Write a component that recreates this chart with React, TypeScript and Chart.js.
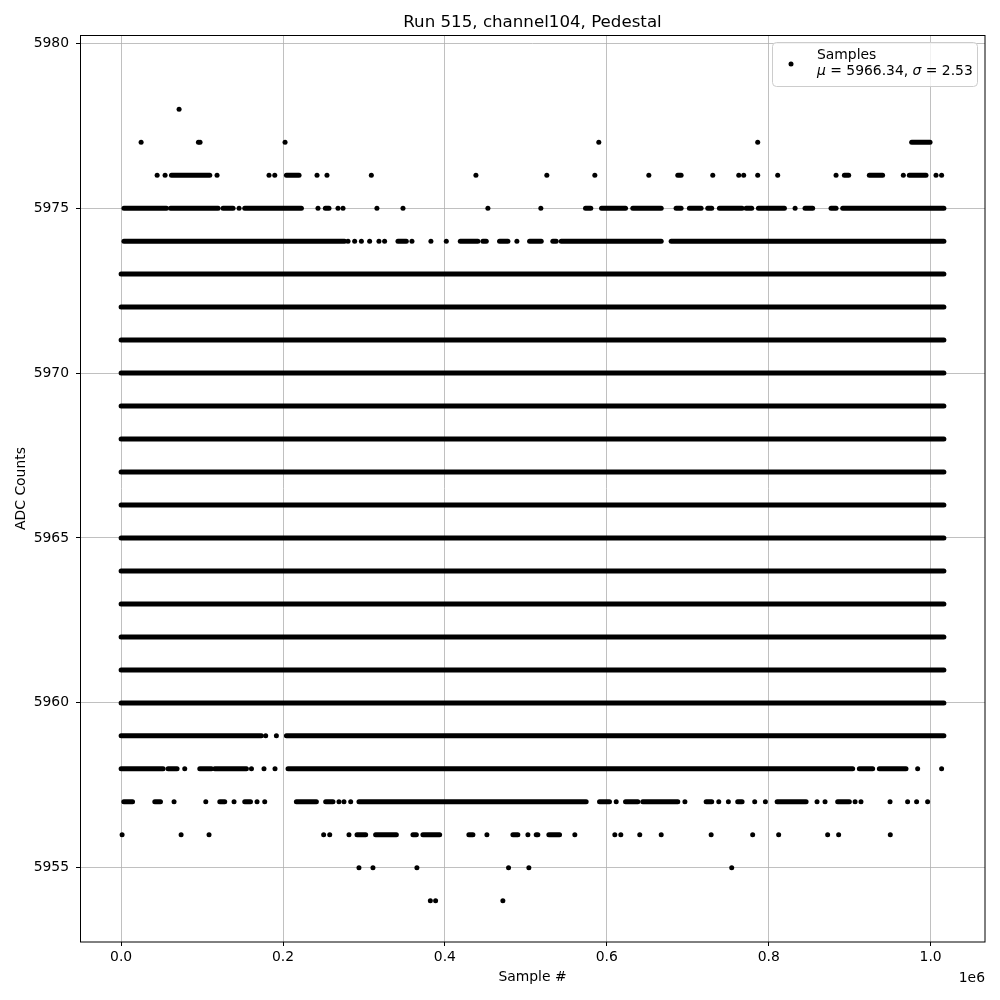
import { useEffect, useRef } from "react";
import { Chart, registerables } from "chart.js";

Chart.register(...registerables);

const FONT = "'DejaVu Sans', sans-serif";

// Axis ticks (x in units of 1e6 samples)
const xTicks = [0.0, 0.2, 0.4, 0.6, 0.8, 1.0];
const yTicks = [5955, 5960, 5965, 5970, 5975, 5980];
const xLimits = [-0.0508, 1.0672];
const yLimits = [5952.75, 5980.25];

// Sample range (x 1e6)
const sampleStart = 0.0;
const sampleEnd = 1.0164;

// ADC values that are filled along the whole sample range
const solidRows = [5960, 5961, 5962, 5963, 5964, 5965, 5966, 5967, 5968, 5969, 5970, 5971, 5972, 5973];

// Isolated samples per ADC value (x 1e6)
const points5978 = [0.0716];
const points5977 = [0.0247, 0.0955, 0.0975, 0.2025, 0.5901, 0.7864];
const points5976 = [0.0445, 0.0543, 0.1185, 0.1827, 0.1898, 0.242, 0.2543, 0.3091, 0.4383, 0.5259, 0.5852, 0.6519, 0.7309, 0.763, 0.7691, 0.7864, 0.8111, 0.8832, 0.9663, 1.0067, 1.0136];
const points5975 = [0.1457, 0.2432, 0.2679, 0.2741, 0.316, 0.3482, 0.4531, 0.5185, 0.8326];
const points5974 = [0.2803, 0.2885, 0.2968, 0.307, 0.3185, 0.3255, 0.3593, 0.3827, 0.4017, 0.4889];
const points5959 = [0.1786, 0.1918];
const points5958 = [0.0786, 0.161, 0.1765, 0.1901, 0.984, 1.0136];
const points5957 = [0.0654, 0.1046, 0.1395, 0.1679, 0.1774, 0.2691, 0.2753, 0.2836, 0.6116, 0.6965, 0.7383, 0.7502, 0.7827, 0.7959, 0.8597, 0.8696, 0.9067, 0.914, 0.9499, 0.9716, 0.9827, 0.9963];
const points5956 = [0.0012, 0.0741, 0.1086, 0.2502, 0.2577, 0.2815, 0.4519, 0.5025, 0.5605, 0.6099, 0.6173, 0.6407, 0.6672, 0.7289, 0.7802, 0.8123, 0.8728, 0.8864, 0.9502];
const points5955 = [0.2938, 0.3111, 0.3654, 0.4786, 0.5037, 0.7543];
const points5954 = [0.382, 0.3885, 0.4716];

// Runs of overlapping samples per ADC value: [first, last] (x 1e6)
const runs5977 = [[0.9766, 0.9993]];
const runs5976 = [[0.0622, 0.1095], [0.2042, 0.2198], [0.6877, 0.6918], [0.8935, 0.8988], [0.9243, 0.9407], [0.9737, 0.9943]];
const runs5975 = [[0.0035, 0.056], [0.061, 0.1198], [0.1259, 0.1383], [0.1527, 0.2227], [0.2523, 0.2568], [0.5737, 0.5802], [0.5935, 0.6231], [0.6321, 0.6672], [0.6856, 0.6918], [0.702, 0.7165], [0.7247, 0.7296], [0.7391, 0.7671], [0.7721, 0.779], [0.7873, 0.8194], [0.8449, 0.8543], [0.877, 0.8832], [0.8914, 1.0164]];
const runs5974 = [[0.0035, 0.276], [0.342, 0.3523], [0.419, 0.4407], [0.4469, 0.4511], [0.4675, 0.4778], [0.5046, 0.519], [0.5333, 0.5375], [0.5437, 0.6672], [0.6795, 1.0164]];
const runs5959 = [[0.0, 0.1733], [0.2042, 1.0164]];
const runs5958 = [[0.0, 0.0519], [0.058, 0.0691], [0.0972, 0.1116], [0.1157, 0.1548], [0.2062, 0.9037], [0.912, 0.9284], [0.9367, 0.9696]];
const runs5957 = [[0.0033, 0.0141], [0.0416, 0.0486], [0.1219, 0.128], [0.1527, 0.1598], [0.2165, 0.2412], [0.2527, 0.2617], [0.2938, 0.5745], [0.591, 0.6033], [0.6231, 0.6383], [0.6444, 0.6877], [0.7227, 0.7296], [0.7617, 0.7671], [0.8104, 0.8462], [0.8852, 0.8996]];
const runs5956 = [[0.2914, 0.3021], [0.3144, 0.34], [0.3605, 0.3647], [0.3728, 0.3935], [0.4296, 0.4346], [0.484, 0.4901], [0.5128, 0.5148], [0.5284, 0.5416]];

const titleText = "Run 515, channel104, Pedestal";
const xLabel = "Sample #";
const yLabel = "ADC Counts";
const offsetText = "1e6";
const legendLabel = "Samples";
const legendMu = "5966.34";
const legendSigma = "2.53";

const MARK = 5; // marker diameter (px)

function pointDataset(adc: number, xs: number[]) {
  return {
    data: xs.map((x) => ({ x, y: adc })),
    showLine: false,
    pointRadius: MARK / 2,
    pointBackgroundColor: "#000",
    pointBorderWidth: 0,
    pointHoverRadius: MARK / 2,
  };
}

function runDataset(adc: number, a: number, b: number) {
  return {
    data: [
      { x: a, y: adc },
      { x: b, y: adc },
    ],
    showLine: true,
    borderColor: "#000",
    borderWidth: MARK,
    borderCapStyle: "round" as const,
    pointRadius: 0,
    pointHoverRadius: 0,
    fill: false,
  };
}

const decor = {
  id: "decor",
  afterDatasetsDraw(chart: any) {
    const ctx = chart.ctx as CanvasRenderingContext2D;
    const { left, right, top, bottom } = chart.chartArea;
    ctx.save();
    // frame
    ctx.strokeStyle = "#000";
    ctx.lineWidth = 1;
    ctx.strokeRect(Math.round(left) + 0.5, Math.round(top) + 0.5, Math.round(right - left) - 0.5, Math.round(bottom - top) - 0.5);

    // title
    ctx.fillStyle = "#000";
    ctx.font = `16.67px ${FONT}`;
    ctx.textAlign = "center";
    ctx.textBaseline = "alphabetic";
    ctx.fillText(titleText, (left + right) / 2, 27);

    // axis labels
    ctx.font = `13.9px ${FONT}`;
    ctx.textBaseline = "middle";
    ctx.fillText(xLabel, (left + right) / 2, 977);
    ctx.save();
    ctx.translate(21, (top + bottom) / 2);
    ctx.rotate(-Math.PI / 2);
    ctx.fillText(yLabel, 0, 0);
    ctx.restore();

    // offset text
    ctx.textAlign = "right";
    ctx.textBaseline = "alphabetic";
    ctx.fillText(offsetText, right, 982);

    // legend
    const lx = 772.5, ly = 42.5, lw = 205, lh = 44;
    ctx.beginPath();
    (ctx as any).roundRect(lx, ly, lw, lh, 4);
    ctx.fillStyle = "rgba(255,255,255,0.8)";
    ctx.fill();
    ctx.strokeStyle = "#cccccc";
    ctx.lineWidth = 1;
    ctx.stroke();
    ctx.fillStyle = "#000";
    ctx.beginPath();
    ctx.arc(791, 64, MARK / 2, 0, Math.PI * 2);
    ctx.fill();
    ctx.textAlign = "left";
    ctx.font = `13.9px ${FONT}`;
    ctx.fillText(legendLabel, 817, 58.5);
    let x = 817;
    const y2 = 75;
    const parts: [string, boolean][] = [
      ["\u03bc", true],
      [" = " + legendMu + ", ", false],
      ["\u03c3", true],
      [" = " + legendSigma, false],
    ];
    for (const [t, it] of parts) {
      ctx.font = `${it ? "italic " : ""}13.9px ${FONT}`;
      ctx.fillText(t, x, y2);
      x += ctx.measureText(t).width;
    }
    ctx.restore();
  },
};

export default function App() {
  const ref = useRef<HTMLCanvasElement>(null);
  useEffect(() => {
    if (!ref.current) return;
    const datasets: any[] = [];
    for (const v of solidRows) datasets.push(runDataset(v, sampleStart, sampleEnd));
    const runRows: [number, number[][]][] = [
      [5977, runs5977],
      [5976, runs5976],
      [5975, runs5975],
      [5974, runs5974],
      [5959, runs5959],
      [5958, runs5958],
      [5957, runs5957],
      [5956, runs5956],
    ];
    for (const [v, runs] of runRows) for (const [a, b] of runs) datasets.push(runDataset(v, a, b));
    const pointRows: [number, number[]][] = [
      [5978, points5978],
      [5977, points5977],
      [5976, points5976],
      [5975, points5975],
      [5974, points5974],
      [5959, points5959],
      [5958, points5958],
      [5957, points5957],
      [5956, points5956],
      [5955, points5955],
      [5954, points5954],
    ];
    for (const [v, xs] of pointRows) datasets.push(pointDataset(v, xs));

    const tickFont = { family: FONT, size: 13.9 };
    const chart = new Chart(ref.current, {
      type: "scatter",
      data: { datasets },
      options: {
        animation: false,
        responsive: false,
        events: [],
        layout: { padding: { top: 35, right: 15, left: 0, bottom: 0 } },
        plugins: { legend: { display: false }, tooltip: { enabled: false }, title: { display: false } },
        scales: {
          x: {
            type: "linear",
            min: xLimits[0],
            max: xLimits[1],
            afterBuildTicks: (s: any) => {
              s.ticks = xTicks.map((value) => ({ value }));
            },
            afterFit: (s: any) => {
              s.height = 58;
            },
            ticks: {
              callback: (v: any) => Number(v).toFixed(1),
              color: "#000",
              font: tickFont,
              padding: 3,
              maxRotation: 0,
              autoSkip: false,
            },
            grid: { color: "#b0b0b0", lineWidth: 0.8, tickColor: "#000", tickLength: 4, tickWidth: 1 },
            border: { display: false },
          },
          y: {
            type: "linear",
            min: yLimits[0],
            max: yLimits[1],
            afterBuildTicks: (s: any) => {
              s.ticks = yTicks.map((value) => ({ value }));
            },
            afterFit: (s: any) => {
              s.width = 80;
            },
            ticks: {
              callback: (v: any) => String(v),
              color: "#000",
              font: tickFont,
              padding: 7,
              autoSkip: false,
            },
            grid: { color: "#b0b0b0", lineWidth: 0.8, tickColor: "#000", tickLength: 4, tickWidth: 1 },
            border: { display: false },
          },
        },
      },
      plugins: [decor],
    });
    return () => chart.destroy();
  }, []);
  return (
    <div style={{ position: "fixed", left: 0, top: 0, width: 1000, height: 1000, background: "#fff" }}>
      <canvas ref={ref} width={1000} height={1000} style={{ width: 1000, height: 1000, display: "block" }} />
    </div>
  );
}
